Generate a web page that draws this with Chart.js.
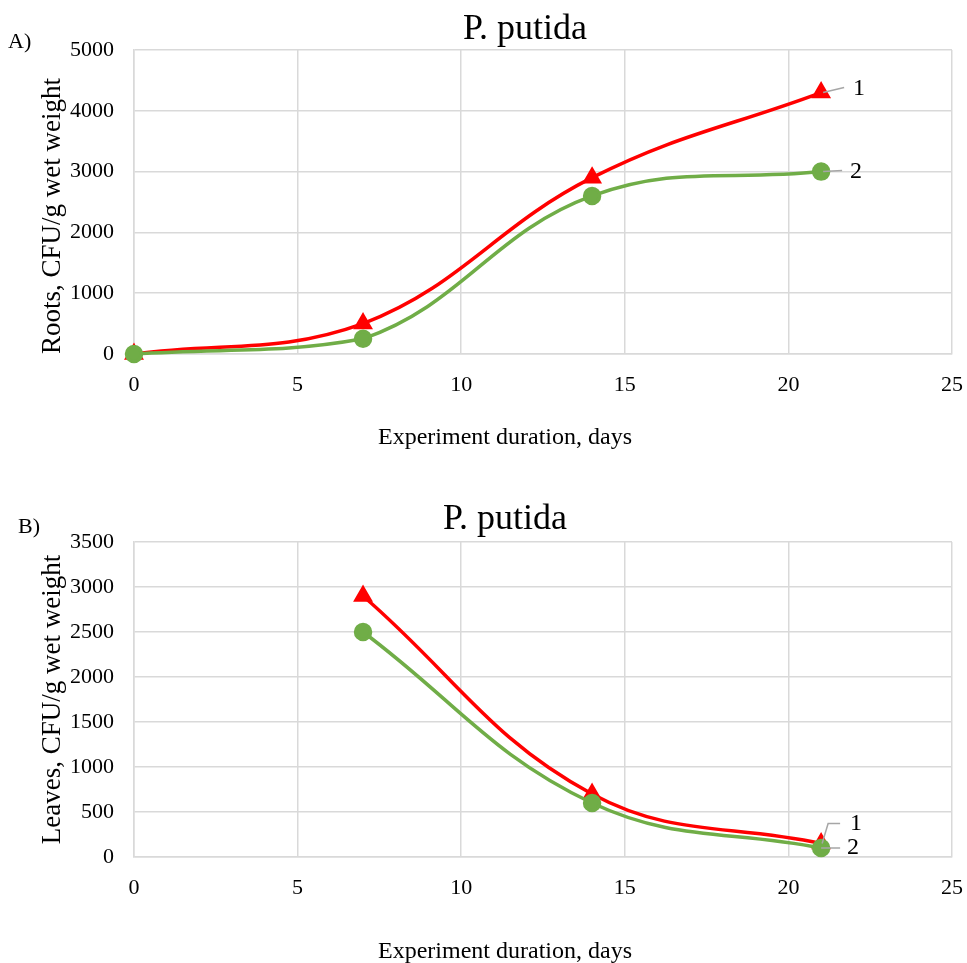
<!DOCTYPE html>
<html><head><meta charset="utf-8">
<script src="https://cdn.jsdelivr.net/npm/chart.js@4"></script>
<style>
html,body{margin:0;padding:0;background:#fff;overflow:hidden;width:967px;height:963px}
#ca{position:absolute;left:0;top:0}
#cb{position:absolute;left:0;top:470px}
</style></head><body>
<canvas id="ca" width="967" height="454"></canvas>
<canvas id="cb" width="967" height="493"></canvas>
<script>
// ---- data ----
const rootDays = [0, 7, 14, 21];
const rootsSeries1 = [0, 500, 2900, 4300];
const rootsSeries2 = [0, 250, 2600, 3000];
const leafDays = [7, 14, 21];
const leavesSeries1 = [2900, 700, 150];
const leavesSeries2 = [2500, 600, 100];
const xTickValues = [0, 5, 10, 15, 20, 25];
const rootsYTickValues = [0, 1000, 2000, 3000, 4000, 5000];
const leavesYTickValues = [0, 500, 1000, 1500, 2000, 2500, 3000, 3500];
const seriesNames = ['1', '2'];
const chartTitle = 'P. putida';
const xTitle = 'Experiment duration, days';
const rootsYTitle = 'Roots, CFU/g wet weight';
const leavesYTitle = 'Leaves, CFU/g wet weight';

// ---- styles ----
const FONT = "'Liberation Serif', 'Times New Roman', serif";
const RED = '#FF0000';
const GREEN = '#70AD47';
const GRID = '#D9D9D9';
const LEADER = '#A6A6A6';

function pts(xs, ys) { return xs.map((x, i) => ({x: x, y: ys[i]})); }

const panelPlugin = {
  id: 'panel',
  afterDatasetsDraw(chart, args, opts) {
    const ctx = chart.ctx;
    const xs = chart.scales.x, ys = chart.scales.y;
    ctx.save();
    ctx.fillStyle = '#000';
    ctx.textBaseline = 'middle';
    ctx.textAlign = 'center';
    ctx.font = '36px ' + FONT;
    ctx.fillText(opts.title, opts.titleX, opts.titleY);
    ctx.font = '24px ' + FONT;
    ctx.fillText(xTitle, opts.xTitleX, opts.xTitleY);
    ctx.font = '22px ' + FONT;
    ctx.textAlign = 'left';
    ctx.fillText(opts.letter, opts.letterX, opts.letterY);
    ctx.font = '24px ' + FONT;
    opts.labels.forEach((lb) => {
      const ds = chart.data.datasets[lb.ds];
      const last = ds.data[ds.data.length - 1];
      const px = xs.getPixelForValue(last.x);
      const py = ys.getPixelForValue(last.y);
      ctx.strokeStyle = LEADER;
      ctx.lineWidth = 1.5;
      ctx.beginPath();
      ctx.moveTo(px + lb.path[0][0], py + lb.path[0][1]);
      for (let k = 1; k < lb.path.length; k++) ctx.lineTo(px + lb.path[k][0], py + lb.path[k][1]);
      ctx.stroke();
      ctx.fillText(seriesNames[lb.ds], px + lb.text[0], py + lb.text[1]);
    });
    ctx.restore();
  }
};

function makeChart(id, xsData, s1, s2, yTicks, yTitle, yTitleAlign, panelOpts, axisH, topPad) {
  const yMax = yTicks[yTicks.length - 1];
  return new Chart(document.getElementById(id), {
    type: 'line',
    data: {
      datasets: [
        {label: seriesNames[0], data: pts(xsData, s1), borderColor: RED, backgroundColor: RED,
         borderWidth: 3.5, pointStyle: 'triangle', pointRadius: 8, pointHoverRadius: 8,
         tension: 0.4, clip: false, order: 1},
        {label: seriesNames[1], data: pts(xsData, s2), borderColor: GREEN, backgroundColor: GREEN,
         borderWidth: 3.5, pointStyle: 'circle', pointRadius: 7.5, pointHoverRadius: 7.5,
         tension: 0.4, clip: false, order: 0}
      ]
    },
    options: {
      responsive: false,
      animation: false,
      layout: {padding: {top: topPad, right: 15, left: 0, bottom: 0}},
      plugins: {legend: {display: false}, tooltip: {enabled: false}, title: {display: false},
        panel: panelOpts},
      scales: {
        x: {
          type: 'linear', min: xTickValues[0], max: xTickValues[xTickValues.length - 1],
          afterBuildTicks: s => { s.ticks = xTickValues.map(v => ({value: v})); },
          grid: {color: GRID, lineWidth: 1.5, drawTicks: false},
          border: {color: GRID, width: 1.5},
          ticks: {color: '#000', font: {family: FONT, size: 22}, padding: 18, maxRotation: 0,
                  callback: v => String(v)},
          title: {display: false},
          afterFit: s => { s.height = axisH; s.paddingLeft = 0; s.paddingRight = 0; }
        },
        y: {
          type: 'linear', min: 0, max: yMax,
          afterBuildTicks: s => { s.ticks = yTicks.map(v => ({value: v})); },
          grid: {color: GRID, lineWidth: 1.5, drawTicks: false},
          border: {color: GRID, width: 1.5},
          ticks: {color: '#000', font: {family: FONT, size: 22}, padding: 20,
                  callback: v => String(v)},
          title: {display: true, text: yTitle, color: '#000', align: yTitleAlign,
                  font: {family: FONT, size: 27, lineHeight: 1},
                  padding: {top: 39, bottom: 0}},
          afterFit: s => { s.width = 134; s.paddingTop = 0; s.paddingBottom = 0; }
        }
      }
    },
    plugins: [panelPlugin]
  });
}

makeChart('ca', rootDays, rootsSeries1, rootsSeries2, rootsYTickValues, rootsYTitle, 'start', {
  title: chartTitle, titleX: 525, titleY: 30, xTitleX: 505, xTitleY: 438,
  letter: 'A)', letterX: 8, letterY: 42,
  labels: [
    {ds: 0, path: [[2, 0], [23, -5]], text: [32, -4]},
    {ds: 1, path: [[2, 0], [21, -1]], text: [29, 0]}
  ]
}, 100, 50);

makeChart('cb', leafDays, leavesSeries1, leavesSeries2, leavesYTickValues, leavesYTitle, 'center', {
  title: chartTitle, titleX: 505, titleY: 50, xTitleX: 505, xTitleY: 482,
  letter: 'B)', letterX: 18, letterY: 57,
  labels: [
    {ds: 0, path: [[1, 0], [7, -20], [19, -20]], text: [29, -20]},
    {ds: 1, path: [[0, 0], [19, 0]], text: [26, 0]}
  ]
}, 106, 72);
</script>
</body></html>
